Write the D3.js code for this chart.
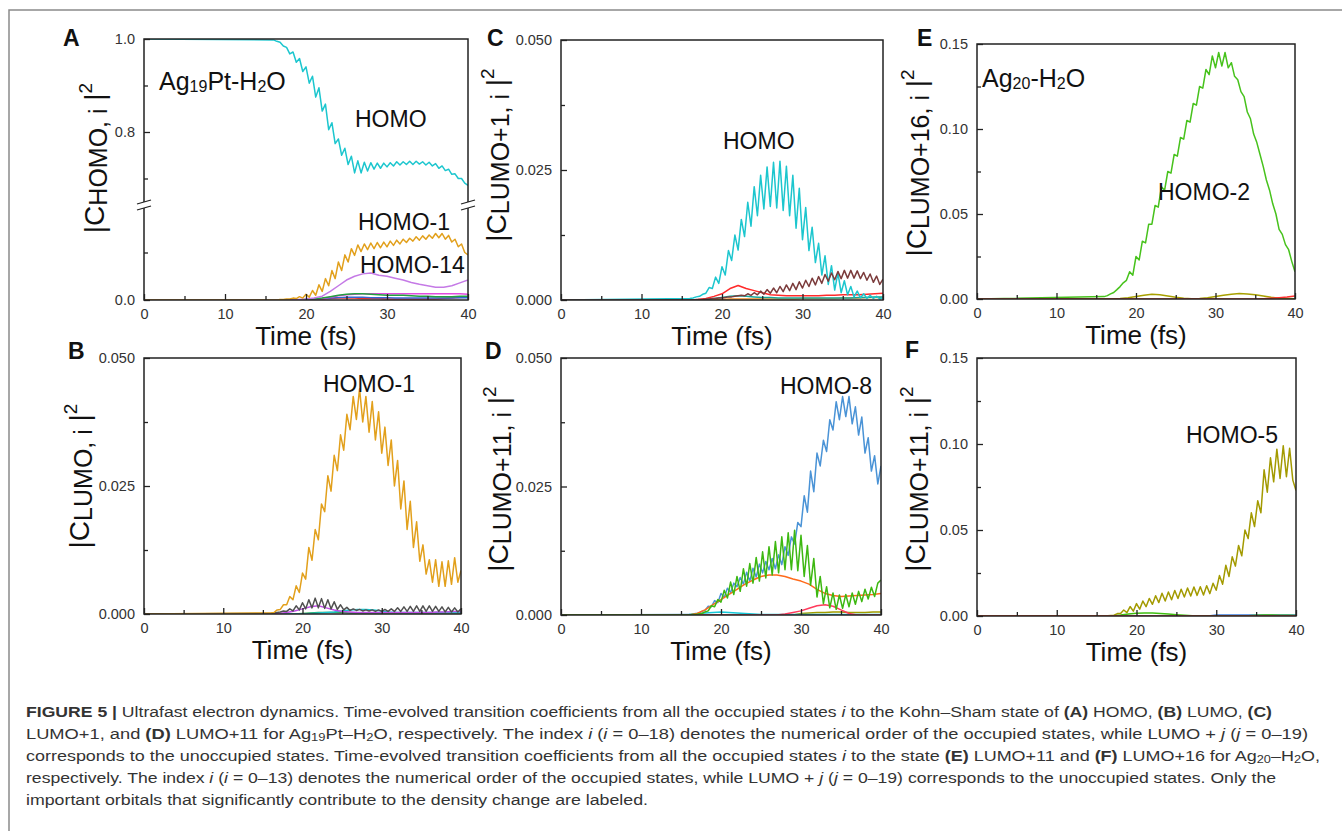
<!DOCTYPE html>
<html>
<head>
<meta charset="utf-8">
<script src="https://cdn.jsdelivr.net/npm/d3@7"></script>
<style>
  body { margin: 0; background: #fff; }
  svg { display: block; font-family: Arial, "Liberation Sans", Helvetica, sans-serif; }
</style>
</head>
<body>
<svg id="fig" width="1342" height="831"></svg>
<script>
// sampling of the read-off curves (fs)
const fineStart = 16, fineStep = 0.4;     // 61 samples, 16 .. 40
const coarseStart = 16, coarseStep = 1;   // 25 samples, 16 .. 40

const timeTicks = [0, 10, 20, 30, 40];
const timeMinor = [5, 15, 25, 35];

// ---- panel A : |C HOMO,i|^2 (broken axis) ----
const aHomo = [
  0.998,0.995,0.993,0.985,0.982,0.968,0.972,0.950,0.958,0.930,
  0.940,0.905,0.920,0.875,0.895,0.845,0.860,0.805,0.820,0.775,
  0.785,0.750,0.765,0.730,0.748,0.712,0.738,0.712,0.735,0.716,
  0.734,0.720,0.733,0.722,0.733,0.725,0.734,0.727,0.736,0.729,
  0.736,0.730,0.737,0.730,0.737,0.731,0.736,0.729,0.735,0.727,
  0.732,0.722,0.727,0.717,0.720,0.709,0.710,0.700,0.700,0.690,
  0.685];
const aHomo1 = [
  0.000,0.000,0.001,0.001,0.002,0.002,0.004,0.003,0.007,0.004,
  0.012,0.006,0.020,0.010,0.032,0.018,0.045,0.030,0.062,0.045,
  0.080,0.062,0.095,0.080,0.108,0.094,0.116,0.102,0.118,0.106,
  0.120,0.108,0.121,0.110,0.122,0.112,0.124,0.115,0.126,0.118,
  0.128,0.121,0.130,0.124,0.133,0.126,0.135,0.128,0.137,0.130,
  0.140,0.131,0.140,0.128,0.136,0.122,0.128,0.112,0.118,0.100,
  0.095];
const aHomo14 = [0,0,0,0.001,0.002,0.004,0.008,0.018,0.030,0.042,0.050,0.055,0.057,0.052,0.050,0.046,0.042,0.037,0.033,0.030,0.027,0.027,0.030,0.036,0.042];
const aGreen = [0,0,0,0,0.001,0.002,0.004,0.007,0.010,0.012,0.013,0.013,0.012,0.011,0.010,0.010,0.010,0.009,0.008,0.008,0.007,0.007,0.007,0.008,0.008];
const aMagenta = [0,0,0,0,0,0.001,0.003,0.006,0.009,0.011,0.012,0.013,0.013,0.013,0.013,0.013,0.013,0.013,0.013,0.013,0.013,0.013,0.013,0.013,0.012];
const aBlue = [0,0,0,0,0.001,0.002,0.003,0.004,0.005,0.006,0.006,0.006,0.005,0.005,0.005,0.004,0.004,0.004,0.004,0.004,0.004,0.004,0.004,0.005,0.005];
const aRed = [0,0,0,0,0,0.001,0.002,0.003,0.004,0.004,0.004,0.003,0.003,0.003,0.002,0.002,0.002,0.002,0.002,0.002,0.002,0.003,0.004,0.005,0.006];

// ---- panel B : |C LUMO,i|^2 ----
const bHomo1 = [
  0.0002,0.0003,0.0008,0.0009,0.0018,0.0018,0.0034,0.0028,0.0055,0.0042,
  0.0080,0.0068,0.0130,0.0105,0.0165,0.0145,0.0215,0.0200,0.0270,0.0240,
  0.0310,0.0280,0.0350,0.0320,0.0390,0.0360,0.0425,0.0380,0.0440,0.0375,
  0.0425,0.0355,0.0415,0.0340,0.0395,0.0314,0.0365,0.0290,0.0340,0.0250,
  0.0300,0.0205,0.0260,0.0165,0.0220,0.0130,0.0180,0.0103,0.0135,0.0078,
  0.0106,0.0062,0.0106,0.0054,0.0102,0.0054,0.0104,0.0058,0.0110,0.0062,
  0.0085];
const bGray = [
  0.0001,0.0002,0.0003,0.0004,0.0006,0.0005,0.0010,0.0006,0.0016,0.0008,
  0.0022,0.0010,0.0028,0.0012,0.0031,0.0012,0.0030,0.0011,0.0028,0.0010,
  0.0024,0.0009,0.0018,0.0008,0.0013,0.0007,0.0010,0.0007,0.0009,0.0006,
  0.0008,0.0006,0.0008,0.0005,0.0008,0.0005,0.0009,0.0005,0.0010,0.0005,
  0.0012,0.0005,0.0014,0.0005,0.0015,0.0005,0.0016,0.0005,0.0016,0.0005,
  0.0016,0.0005,0.0015,0.0005,0.0014,0.0004,0.0013,0.0004,0.0012,0.0004,
  0.0010];
const bPurple = [0,0.0001,0.0003,0.0006,0.0010,0.0014,0.0016,0.0012,0.0008,0.0005,0.0004,0.0003,0.0003,0.0003,0.0003,0.0003,0.0003,0.0003,0.0003,0.0003,0.0003,0.0004,0.0004,0.0005,0.0005];
const bCyan = [0,0,0,0,0,0.0001,0.0002,0.0003,0.0004,0.0006,0.0008,0.0009,0.0009,0.0008,0.0006,0.0004,0.0003,0.0003,0.0003,0.0003,0.0003,0.0003,0.0003,0.0003,0.0003];
const bGreen = [0,0,0,0,0.0001,0.0002,0.0003,0.0003,0.0003,0.0003,0.0002,0.0002,0.0002,0.0002,0.0002,0.0002,0.0002,0.0002,0.0002,0.0002,0.0002,0.0002,0.0002,0.0002,0.0002];

// ---- panel C : |C LUMO+1,i|^2 ----
const cHomo = [
  0.0003,0.0004,0.0006,0.0007,0.0011,0.0013,0.0024,0.0022,0.0044,0.0032,
  0.0064,0.0048,0.0095,0.0076,0.0125,0.0096,0.0155,0.0122,0.0188,0.0142,
  0.0218,0.0162,0.0240,0.0175,0.0256,0.0180,0.0265,0.0177,0.0267,0.0172,
  0.0257,0.0162,0.0240,0.0138,0.0215,0.0116,0.0178,0.0095,0.0140,0.0072,
  0.0109,0.0048,0.0085,0.0030,0.0066,0.0019,0.0052,0.0014,0.0037,0.0010,
  0.0026,0.0006,0.0017,0.0004,0.0012,0.0003,0.0009,0.0003,0.0007,0.0002,
  0.0005];
const cBrown = [
  0.0000,0.0000,0.0001,0.0001,0.0001,0.0002,0.0002,0.0003,0.0003,0.0004,
  0.0004,0.0005,0.0006,0.0006,0.0007,0.0008,0.0009,0.0008,0.0012,0.0009,
  0.0014,0.0010,0.0017,0.0011,0.0020,0.0013,0.0023,0.0014,0.0026,0.0016,
  0.0029,0.0018,0.0032,0.0020,0.0035,0.0023,0.0038,0.0026,0.0042,0.0029,
  0.0045,0.0032,0.0049,0.0036,0.0052,0.0039,0.0055,0.0041,0.0057,0.0042,
  0.0057,0.0042,0.0056,0.0041,0.0053,0.0038,0.0050,0.0034,0.0046,0.0030,
  0.0040];
const cRed = [0,0.0001,0.0003,0.0007,0.0012,0.0022,0.0028,0.0022,0.0018,0.0014,0.0010,0.0009,0.0008,0.0008,0.0008,0.0008,0.0008,0.0009,0.0009,0.0010,0.0010,0.0010,0.0011,0.0012,0.0013];
const cTeal = [0,0,0.0001,0.0003,0.0005,0.0007,0.0008,0.0007,0.0006,0.0005,0.0005,0.0004,0.0004,0.0004,0.0004,0.0004,0.0004,0.0004,0.0004,0.0004,0.0004,0.0005,0.0005,0.0006,0.0006];
const cOrange = [0,0,0,0,0.0001,0.0002,0.0002,0.0002,0.0002,0.0002,0.0002,0.0002,0.0002,0.0002,0.0003,0.0003,0.0003,0.0003,0.0003,0.0004,0.0004,0.0004,0.0005,0.0005,0.0005];

// ---- panel D : |C LUMO+11,i|^2 ----
const dHomo8 = [
  0.0001,0.0001,0.0003,0.0003,0.0007,0.0009,0.0017,0.0016,0.0028,0.0024,
  0.0042,0.0034,0.0052,0.0044,0.0062,0.0055,0.0073,0.0060,0.0083,0.0066,
  0.0091,0.0074,0.0099,0.0082,0.0104,0.0088,0.0110,0.0090,0.0117,0.0098,
  0.0133,0.0116,0.0152,0.0138,0.0180,0.0172,0.0232,0.0200,0.0280,0.0240,
  0.0315,0.0290,0.0340,0.0318,0.0380,0.0360,0.0415,0.0380,0.0425,0.0386,
  0.0425,0.0372,0.0405,0.0350,0.0385,0.0315,0.0345,0.0280,0.0310,0.0255,
  0.0290];
const dGreen = [
  0.0000,0.0001,0.0001,0.0002,0.0003,0.0006,0.0008,0.0018,0.0016,0.0030,
  0.0025,0.0048,0.0033,0.0064,0.0040,0.0075,0.0046,0.0090,0.0056,0.0100,
  0.0062,0.0112,0.0066,0.0123,0.0072,0.0133,0.0078,0.0143,0.0082,0.0152,
  0.0088,0.0160,0.0088,0.0165,0.0086,0.0155,0.0075,0.0135,0.0058,0.0110,
  0.0035,0.0075,0.0022,0.0055,0.0014,0.0043,0.0011,0.0039,0.0013,0.0040,
  0.0016,0.0043,0.0021,0.0046,0.0026,0.0050,0.0031,0.0054,0.0036,0.0062,
  0.0068];
const dOrange = [0,0.0003,0.0010,0.0020,0.0030,0.0040,0.0050,0.0060,0.0068,0.0075,0.0078,0.0078,0.0075,0.0070,0.0066,0.0060,0.0050,0.0042,0.0038,0.0036,0.0037,0.0038,0.0039,0.0040,0.0042];
const dRed = [0,0,0,0,0,0,0,0,0,0,0,0,0.0002,0.0005,0.0008,0.0013,0.0018,0.0020,0.0017,0.0010,0.0003,0,0,0,0];
const dCyan = [0.0001,0.0002,0.0004,0.0005,0.0006,0.0005,0.0004,0.0003,0.0002,0.0001,0.0001,0.0001,0.0001,0.0001,0.0001,0.0001,0.0001,0.0001,0.0001,0.0001,0.0001,0.0001,0.0001,0.0001,0.0001];
const dOlive = [0,0,0,0,0,0,0,0,0,0,0,0,0,0,0.0003,0.0004,0.0005,0.0005,0.0006,0.0006,0.0005,0.0005,0.0005,0.0006,0.0006];

// ---- panel E : |C LUMO+16,i|^2 (Ag20-H2O) ----
const eHomo2 = [
  0.0014,0.0020,0.0030,0.0038,0.0055,0.0073,0.0095,0.0110,0.0160,0.0140,
  0.0250,0.0230,0.0340,0.0330,0.0440,0.0440,0.0550,0.0540,0.0660,0.0640,
  0.0750,0.0740,0.0850,0.0840,0.0950,0.0940,0.1050,0.1040,0.1150,0.1140,
  0.1250,0.1240,0.1350,0.1320,0.1430,0.1360,0.1450,0.1370,0.1450,0.1360,
  0.1390,0.1310,0.1290,0.1220,0.1190,0.1100,0.1060,0.0970,0.0920,0.0850,
  0.0780,0.0700,0.0640,0.0560,0.0500,0.0410,0.0380,0.0320,0.0290,0.0220,
  0.0160];
const eOlive = [0,0,0.0003,0.0008,0.0015,0.0022,0.0028,0.0025,0.0018,0.0010,0.0004,0.0002,0.0003,0.0008,0.0015,0.0022,0.0028,0.0032,0.0030,0.0025,0.0018,0.0010,0.0005,0.0003,0.0002];
const eRed = [0,0,0,0,0,0,0,0,0,0,0,0,0,0,0,0,0,0,0,0,0.0002,0.0005,0.0008,0.0012,0.0018];

// ---- panel F : |C LUMO+11,i|^2 (Ag20-H2O) ----
const fHomo5 = [
  0.0001,0.0001,0.0003,0.0005,0.0014,0.0015,0.0035,0.0020,0.0055,0.0028,
  0.0072,0.0040,0.0087,0.0054,0.0102,0.0068,0.0118,0.0078,0.0132,0.0087,
  0.0140,0.0094,0.0148,0.0102,0.0156,0.0110,0.0163,0.0116,0.0169,0.0120,
  0.0170,0.0122,0.0176,0.0130,0.0190,0.0150,0.0235,0.0185,0.0295,0.0230,
  0.0344,0.0290,0.0410,0.0350,0.0500,0.0450,0.0600,0.0520,0.0670,0.0600,
  0.0850,0.0720,0.0920,0.0780,0.0970,0.0800,0.0990,0.0810,0.0975,0.0790,
  0.0730];
const fGreen = [0,0.0002,0.0006,0.0012,0.0016,0.0018,0.0018,0.0015,0.0011,0.0007,0.0004,0.0002,0.0002,0.0002,0.0002,0.0002,0.0002,0.0002,0.0002,0.0004,0.0006,0.0006,0.0005,0.0004,0.0003];
const fBlue = [0,0,0,0,0,0,0,0,0,0,0,0,0,0,0.0006,0.0006,0.0006,0.0006,0.0006,0.0006,0.0006,0.0006,0.0006,0.0006,0.0006];
const fRed = [0,0,0,0,0,0,0,0,0,0,0,0,0,0,0,0,0,0,0,0,0,0,0,0,0];

// ---- caption ----
const captionLines = [
  [["FIGURE 5 | ", "b"], ["Ultrafast electron dynamics. Time-evolved transition coefficients from all the occupied states ", ""], ["i", "i"], [" to the Kohn–Sham state of ", ""], ["(A)", "b"], [" HOMO, ", ""], ["(B)", "b"], [" LUMO, ", ""], ["(C)", "b"]],
  [["LUMO+1, and ", ""], ["(D)", "b"], [" LUMO+11 for Ag", ""], ["19", "sub"], ["Pt–H", ""], ["2", "sub"], ["O, respectively. The index ", ""], ["i", "i"], [" (", ""], ["i", "i"], [" = 0–18) denotes the numerical order of the occupied states, while LUMO + ", ""], ["j", "i"], [" (", ""], ["j", "i"], [" = 0–19)", ""]],
  [["corresponds to the unoccupied states. Time-evolved transition coefficients from all the occupied states ", ""], ["i", "i"], [" to the state ", ""], ["(E)", "b"], [" LUMO+11 and ", ""], ["(F)", "b"], [" LUMO+16 for Ag", ""], ["20", "sub"], ["–H", ""], ["2", "sub"], ["O,", ""]],
  [["respectively. The index ", ""], ["i", "i"], [" (", ""], ["i", "i"], [" = 0–13) denotes the numerical order of the occupied states, while LUMO + ", ""], ["j", "i"], [" (", ""], ["j", "i"], [" = 0–19) corresponds to the unoccupied states. Only the", ""]],
  [["important orbitals that significantly contribute to the density change are labeled.", ""]]
];

// colours
const cyan = "#1cc6ce", gold = "#e2a01c";

// layout of the six panels
const panels = [
  { letter: "A", box: [144, 39, 468, 300], letterPos: [63, 46], ylabPos: [104, 158],
    ylab: ["HOMO, i"], fmt: ".1f",
    segments: [
      { domain: [0.643, 1.0], range: [205, 39], major: [0.8, 1.0], minor: [0.7, 0.9] },
      { domain: [0, 0.2], range: [300, 205], major: [0], minor: [0.1] }
    ],
    series: [
      { values: aRed, grid: "coarse", color: "#e8332a", seg: 1 },
      { values: aBlue, grid: "coarse", color: "#3466d6", seg: 1 },
      { values: aMagenta, grid: "coarse", color: "#e24ae0", seg: 1 },
      { values: aGreen, grid: "coarse", color: "#22a040", seg: 1 },
      { values: aHomo14, grid: "coarse", color: "#c57ae6", seg: 1 },
      { values: aHomo1, grid: "fine", color: gold, seg: 1 },
      { values: aHomo, grid: "fine", color: cyan, seg: 0, start: 1.0 }
    ],
    notes: [
      { pos: [355, 127], parts: [["HOMO", ""]] },
      { pos: [358, 230], parts: [["HOMO-1", ""]] },
      { pos: [360, 273], parts: [["HOMO-14", ""]] },
      { pos: [159, 90], size: 25, parts: [["Ag", ""], ["19", "sub"], ["Pt-H", ""], ["2", "sub"], ["O", ""]] }
    ] },
  { letter: "B", box: [144, 358, 461, 614], letterPos: [68, 359], ylabPos: [89, 476],
    ylab: ["LUMO, i"], fmt: ".3f",
    segments: [{ domain: [0, 0.05], range: [614, 358], major: [0, 0.025, 0.05], minor: [0.0125, 0.0375] }],
    series: [
      { values: bGreen, grid: "coarse", color: "#2aa84a" },
      { values: bCyan, grid: "coarse", color: cyan },
      { values: bPurple, grid: "coarse", color: "#c04ee6" },
      { values: bGray, grid: "fine", color: "#505050" },
      { values: bHomo1, grid: "fine", color: gold }
    ],
    notes: [{ pos: [323, 392], parts: [["HOMO-1", ""]] }] },
  { letter: "C", box: [561, 40, 883, 300], letterPos: [487, 46], ylabPos: [506, 155],
    ylab: ["LUMO+1, i"], fmt: ".3f",
    segments: [{ domain: [0, 0.05], range: [300, 40], major: [0, 0.025, 0.05], minor: [0.0125, 0.0375] }],
    series: [
      { values: cOrange, grid: "coarse", color: "#f08a20" },
      { values: cTeal, grid: "coarse", color: "#18a79a" },
      { values: cRed, grid: "coarse", color: "#ff2a2a" },
      { values: cHomo, grid: "fine", color: cyan },
      { values: cBrown, grid: "fine", color: "#7b3b3b" }
    ],
    notes: [{ pos: [723, 149], parts: [["HOMO", ""]] }] },
  { letter: "D", box: [561, 358, 881, 615], letterPos: [485, 359], ylabPos: [508, 479],
    ylab: ["LUMO+11, i"], fmt: ".3f",
    segments: [{ domain: [0, 0.05], range: [615, 358], major: [0, 0.025, 0.05], minor: [0.0125, 0.0375] }],
    series: [
      { values: dOlive, grid: "coarse", color: "#a09c00" },
      { values: dCyan, grid: "coarse", color: "#18c8d8" },
      { values: dRed, grid: "coarse", color: "#ff3b5c" },
      { values: dHomo8, grid: "fine", color: "#4a93d6" },
      { values: dOrange, grid: "coarse", color: "#ff6a1a" },
      { values: dGreen, grid: "fine", color: "#3db811" }
    ],
    notes: [{ pos: [780, 394], parts: [["HOMO-8", ""]] }] },
  { letter: "E", box: [977, 44, 1295, 299], letterPos: [917, 46], ylabPos: [926, 163],
    ylab: ["LUMO+16, i"], fmt: ".2f",
    segments: [{ domain: [0, 0.15], range: [299, 44], major: [0, 0.05, 0.10, 0.15], minor: [0.025, 0.075, 0.125] }],
    series: [
      { values: eOlive, grid: "coarse", color: "#a8a000" },
      { values: eHomo2, grid: "fine", color: "#47c21c" },
      { values: eRed, grid: "coarse", color: "#ff3030" }
    ],
    notes: [
      { pos: [982, 87], size: 25, parts: [["Ag", ""], ["20", "sub"], ["-H", ""], ["2", "sub"], ["O", ""]] },
      { pos: [1158, 200], parts: [["HOMO-2", ""]] }
    ] },
  { letter: "F", box: [977, 358, 1296, 616], letterPos: [905, 358], ylabPos: [925, 479],
    ylab: ["LUMO+11, i"], fmt: ".2f",
    segments: [{ domain: [0, 0.15], range: [616, 358], major: [0, 0.05, 0.10, 0.15], minor: [0.025, 0.075, 0.125] }],
    series: [
      { values: fBlue, grid: "coarse", color: "#3d80e0" },
      { values: fGreen, grid: "coarse", color: "#3fbf10" },
      { values: fHomo5, grid: "fine", color: "#a39a00" },
      { values: fRed, grid: "coarse", color: "#ff3030" }
    ],
    notes: [{ pos: [1186, 443], parts: [["HOMO-5", ""]] }] }
];

const captionX = 26, captionY = [717, 739, 761, 783, 805];
const captionEnds = [1272, 1308, 1320, 1276, 648];

const svg = d3.select("#fig");

// outer figure frame (top and left edges only)
svg.append("path").attr("d", "M9,831V10H1342").attr("fill", "none")
  .attr("stroke", "#8a8a8a").attr("stroke-width", 1.5);

function toPoints(s) {
  const t0 = s.grid === "fine" ? fineStart : coarseStart;
  const dt = s.grid === "fine" ? fineStep : coarseStep;
  const pts = s.values.map((v, i) => [t0 + i * dt, v]);
  pts.unshift([0, s.start ?? 0]);
  return pts;
}

function addParts(sel, parts, subSize) {
  parts.forEach(([txt, st]) => {
    const ts = sel.append("tspan").text(txt);
    if (st === "b") ts.attr("font-weight", "bold");
    if (st === "i") ts.attr("font-style", "italic");
    if (st === "sub") ts.attr("font-size", subSize).attr("baseline-shift", -2);
  });
}

panels.forEach((p, pi) => {
  const [x0, y0, x1, y1] = p.box;
  const g = svg.append("g");
  const x = d3.scaleLinear().domain([0, 40]).range([x0, x1]);
  const ys = p.segments.map(s => d3.scaleLinear().domain(s.domain).range(s.range));

  // clip per axis segment
  p.segments.forEach((s, si) => {
    svg.append("clipPath").attr("id", `clip${pi}_${si}`)
      .append("rect").attr("x", x0).attr("y", s.range[1])
      .attr("width", x1 - x0).attr("height", s.range[0] - s.range[1]);
  });

  p.series.forEach(s => {
    const y = ys[s.seg || 0];
    g.append("path")
      .datum(toPoints(s))
      .attr("clip-path", `url(#clip${pi}_${s.seg || 0})`)
      .attr("fill", "none")
      .attr("stroke", s.color)
      .attr("stroke-width", 1.5)
      .attr("stroke-linejoin", "round")
      .attr("d", d3.line().x(d => x(d[0])).y(d => y(d[1])));
  });

  g.append("rect").attr("x", x0).attr("y", y0).attr("width", x1 - x0).attr("height", y1 - y0)
    .attr("fill", "none").attr("stroke", "#222").attr("stroke-width", 1.5);

  // broken axis marks
  if (p.segments.length > 1) {
    const yb = p.segments[1].range[1];
    [x0, x1].forEach(xb => {
      g.append("rect").attr("x", xb - 4).attr("y", yb - 3).attr("width", 8).attr("height", 6).attr("fill", "#fff");
      [-3, 3].forEach(o => {
        g.append("line").attr("x1", xb - 7).attr("y1", yb + o + 2).attr("x2", xb + 7).attr("y2", yb + o - 2)
          .attr("stroke", "#222").attr("stroke-width", 1.3);
      });
    });
  }

  // axes
  const styleAxis = a => {
    a.select(".domain").remove();
    a.selectAll("line").attr("stroke", "#222").attr("stroke-width", 1.3);
    a.selectAll("text").attr("font-size", 14.5).attr("fill", "#333").attr("font-family", "Arial, 'Liberation Sans', sans-serif");
  };
  const xg = g.append("g").attr("transform", `translate(0,${y1})`)
    .call(d3.axisBottom(x).tickValues(timeTicks).tickSize(-6).tickPadding(9).tickFormat(d3.format("d")));
  styleAxis(xg);
  const xm = g.append("g").attr("transform", `translate(0,${y1})`)
    .call(d3.axisBottom(x).tickValues(timeMinor).tickSize(-4).tickFormat(""));
  styleAxis(xm);
  p.segments.forEach((s, si) => {
    const ya = g.append("g").attr("transform", `translate(${x0},0)`)
      .call(d3.axisLeft(ys[si]).tickValues(s.major).tickSize(-6).tickPadding(9).tickFormat(d3.format(p.fmt)));
    styleAxis(ya);
    const ym = g.append("g").attr("transform", `translate(${x0},0)`)
      .call(d3.axisLeft(ys[si]).tickValues(s.minor).tickSize(-4).tickFormat(""));
    styleAxis(ym);
  });

  // axis titles
  g.append("text").attr("x", (x0 + x1) / 2).attr("y", y1 + 45)
    .attr("text-anchor", "middle").attr("font-size", 26).attr("fill", "#111").text("Time (fs)");

  const yl = g.append("text")
    .attr("transform", `translate(${p.ylabPos[0]},${p.ylabPos[1]}) rotate(-90)`)
    .attr("text-anchor", "middle").attr("font-size", 28).attr("fill", "#111");
  yl.append("tspan").text("|C");
  yl.append("tspan").attr("font-size", 25).attr("baseline-shift", -3).text(p.ylab[0]);
  yl.append("tspan").text(" |");
  yl.append("tspan").attr("font-size", 19).attr("baseline-shift", 12).text("2");

  // panel letter
  g.append("text").attr("x", p.letterPos[0]).attr("y", p.letterPos[1])
    .attr("font-size", 23).attr("font-weight", "bold").attr("fill", "#111").text(p.letter);

  // annotations
  p.notes.forEach(n => {
    const t = g.append("text").attr("x", n.pos[0]).attr("y", n.pos[1])
      .attr("font-size", n.size || 23).attr("fill", "#111");
    addParts(t, n.parts, 16);
  });
});

// caption
captionLines.forEach((line, i) => {
  const t = svg.append("text")
    .attr("x", captionX).attr("y", captionY[i])
    .attr("font-family", "Arial, 'Liberation Sans', Helvetica, sans-serif")
    .attr("font-size", 15.5).attr("fill", "#333")
    .style("white-space", "pre")
    .attr("textLength", captionEnds[i] - captionX)
    .attr("lengthAdjust", "spacingAndGlyphs");
  addParts(t, line, 11);
});
</script>
</body>
</html>
